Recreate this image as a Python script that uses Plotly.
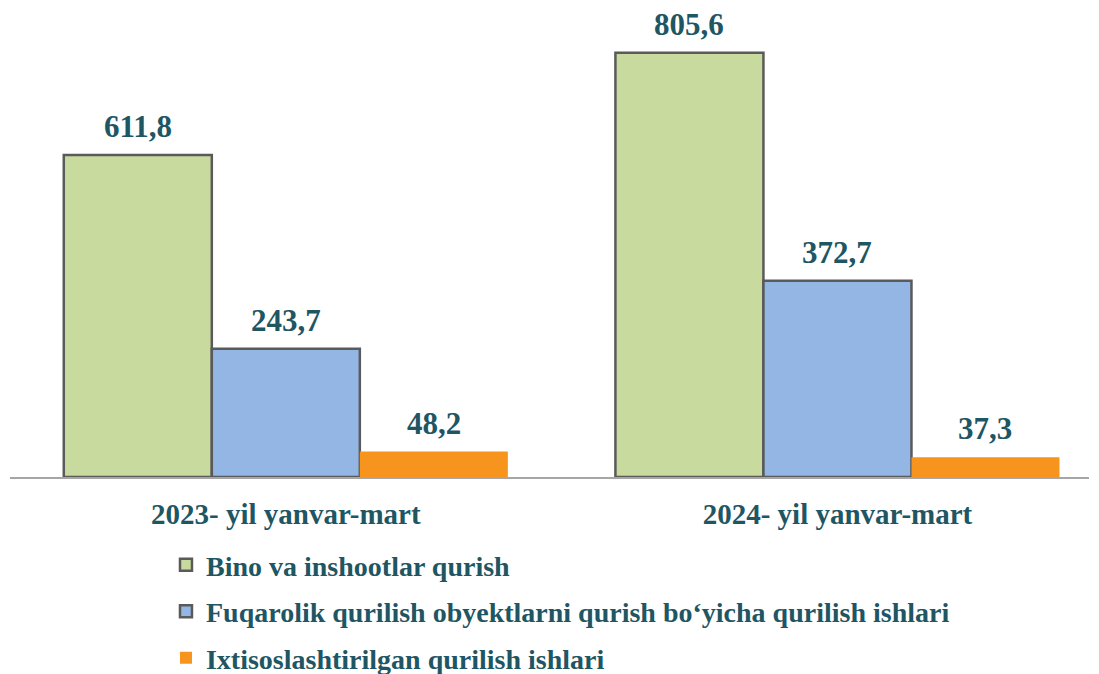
import plotly.graph_objects as go

categories = ["2023- yil yanvar-mart", "2024- yil yanvar-mart"]
series_names = [
    "Bino va inshootlar qurish",
    "Fuqarolik qurilish obyektlarni qurish bo‘yicha qurilish ishlari",
    "Ixtisoslashtirilgan qurilish ishlari",
]
values_bino = [611.8, 805.6]
values_fuqarolik = [243.7, 372.7]
values_ixtisos = [48.2, 37.3]
series_values = [values_bino, values_fuqarolik, values_ixtisos]

colors = ["#C8DA9E", "#93B6E4", "#F7941E"]
line_colors = ["#5A5A5A", "#5A5A5A", "rgba(0,0,0,0)"]
line_widths = [2.5, 2.5, 0]
text_color = "#1F5663"
font_family = "Liberation Serif"

x_pos = list(range(len(categories)))
bargap = 0.195

fig = go.Figure()
for i, (name, vals) in enumerate(zip(series_names, series_values)):
    fig.add_trace(go.Bar(
        x=x_pos, y=vals, name=f"<b>{name}</b>",
        marker=dict(color=colors[i], line=dict(color=line_colors[i], width=line_widths[i])),
        legendgroup=f"g{i}",
        hoverinfo="y",
    ))

bar_w = (1 - bargap) / 3
annotations = []
for i, vals in enumerate(series_values):
    for j, v in enumerate(vals):
        xc = x_pos[j] + (i - 1) * bar_w
        annotations.append(dict(
            x=xc, y=v, xref="x", yref="y", text=f"<b>{v:.1f}</b>".replace(".", ","),
            showarrow=False, yanchor="bottom", yshift=9,
            font=dict(family=font_family, size=31, color=text_color),
        ))

fig.update_layout(
    width=1091, height=666,
    margin=dict(l=2, r=10, t=12, b=197, autoexpand=False),
    paper_bgcolor="white", plot_bgcolor="white",
    barmode="group", bargap=bargap, bargroupgap=0,
    showlegend=True,
    legend=dict(
        x=0.1448, y=0.201, xref="container", yref="container",
        xanchor="left", yanchor="top",
        orientation="v", tracegroupgap=7,
        font=dict(family=font_family, size=28, color=text_color),
        itemclick=False,
    ),
    annotations=annotations,
    xaxis=dict(
        range=[-0.5, 1.456],
        tickvals=x_pos,
        ticktext=[f"<b>{c}</b>" for c in categories],
        tickfont=dict(family=font_family, size=29, color=text_color),
        showline=True, linecolor="#A6A6A6", linewidth=2,
        showgrid=False, zeroline=False, ticks="",
        ticklabelstandoff=10, automargin=False,
    ),
    yaxis=dict(
        range=[0, 868],
        visible=False, showgrid=False, zeroline=False, automargin=False,
    ),
)

fig.write_html("out.html")
